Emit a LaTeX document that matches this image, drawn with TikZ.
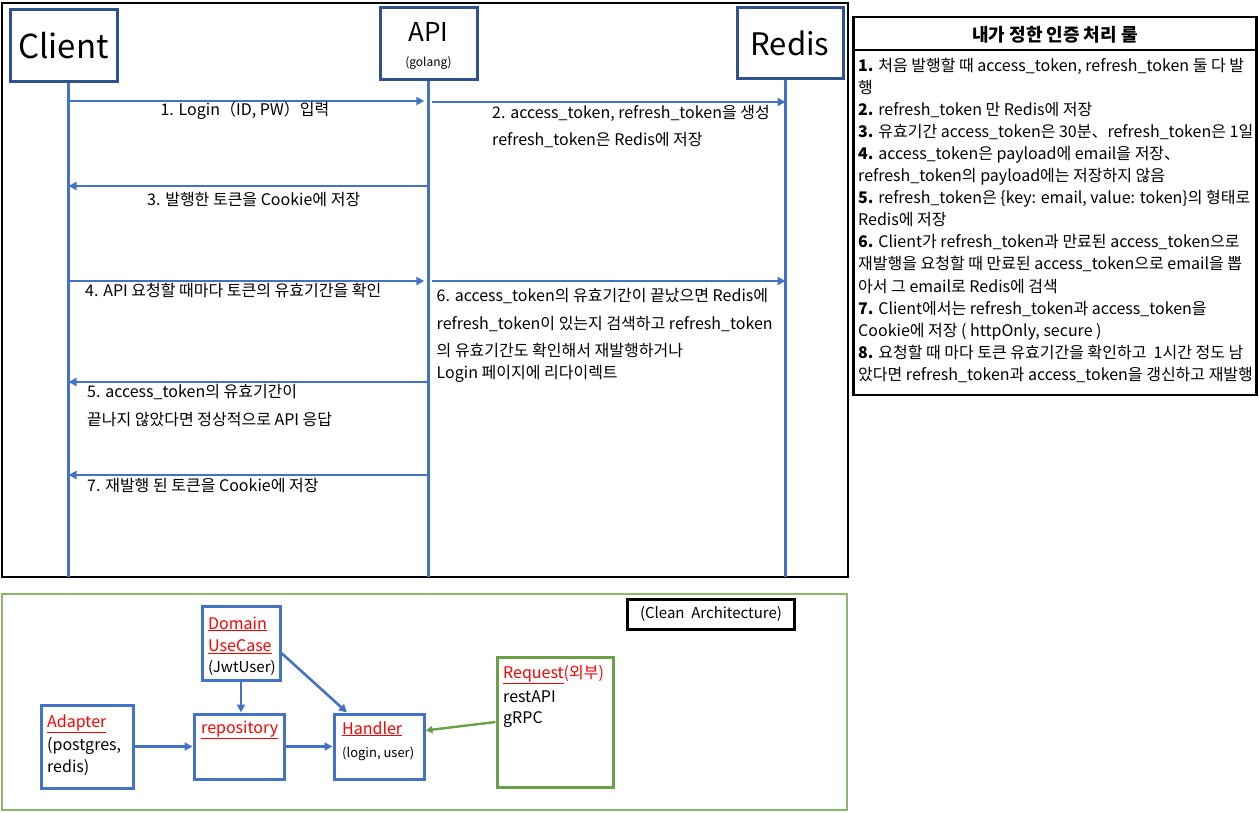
\documentclass[tikz,border=0pt]{standalone}
\usepackage{fontspec}
\setmainfont{Noto Sans CJK KR}
\usetikzlibrary{arrows.meta,positioning}
\definecolor{actorblue}{RGB}{47,82,143}
\definecolor{lifeblue}{RGB}{68,114,196}
\definecolor{framegreen}{RGB}{140,185,105}
\definecolor{reqgreen}{RGB}{106,160,70}
\definecolor{layerred}{RGB}{255,0,0}
\newcommand{\fsz}[1]{\fontsize{#1}{#1}\selectfont}

\begin{document}
\begin{tikzpicture}[x=1pt,y=-1pt,
  actor/.style={draw=actorblue,line width=3pt,inner sep=0pt},
  lifeline/.style={lifeblue,line width=2.4pt},
  msg/.style={lifeblue,line width=2.4pt,-{Triangle[length=8pt,width=8pt]}},
  msgtext/.style={font=\fsz{16},anchor=base west,inner sep=0pt},
  ruletext/.style={font=\fsz{16},anchor=base west,inner sep=0pt},
  layer/.style={draw=lifeblue,line width=3pt,inner sep=0pt},
  layertext/.style={font=\fsz{16},anchor=base west,inner sep=0pt},
  layername/.style={layertext,text=layerred},
  dep/.style={lifeblue,line width=2.6pt,-{Triangle[length=8pt,width=8pt]}}]
\useasboundingbox (0,0) rectangle (1259,813);

% sequence part
\draw[line width=2.4pt] (2,3) rectangle (848,577);
\node[actor,minimum width=107,minimum height=72,font=\fsz{33}] (client) at (63.5,46) {Client};
\node[actor,minimum width=97,minimum height=72] (api) at (428.5,44) {};
\node[font=\fsz{26},anchor=base,inner sep=0pt] (apiName) at (428.5,42) {API};
\node[font=\fsz{12},anchor=base,inner sep=0pt] (apiLang) at (428.5,67) {(golang)};
\node[actor,minimum width=106,minimum height=71,font=\fsz{31}] (redis) at (790,43.5) {Redis};

\coordinate (clientFoot) at (68.5,577);
\coordinate (apiFoot) at (428.3,577);
\coordinate (redisFoot) at (785.5,577);
\draw[lifeline] (client.south -| clientFoot) -- (clientFoot);
\draw[lifeline] (api.south -| apiFoot) -- (apiFoot);
\draw[lifeline] (redis.south -| redisFoot) -- (redisFoot);

\coordinate (lvlLogin) at (0,101);
\coordinate (lvlIssue) at (0,102);
\coordinate (lvlCookie) at (0,186);
\coordinate (lvlCheck) at (0,281);
\coordinate (lvlReply) at (0,382);
\coordinate (lvlReissue) at (0,475);

\draw[msg,shorten >=4pt] (clientFoot |- lvlLogin) -- (apiFoot |- lvlLogin);
\draw[msg,shorten <=4pt] (apiFoot |- lvlIssue) -- (redisFoot |- lvlIssue);
\draw[msg] (apiFoot |- lvlCookie) -- (clientFoot |- lvlCookie);
\draw[msg,shorten >=4pt] (clientFoot |- lvlCheck) -- (apiFoot |- lvlCheck);
\draw[msg,shorten <=4pt] (apiFoot |- lvlCheck) -- (redisFoot |- lvlCheck);
\draw[msg] (apiFoot |- lvlReply) -- (clientFoot |- lvlReply);
\draw[msg] (apiFoot |- lvlReissue) -- (clientFoot |- lvlReissue);

\node[msgtext,anchor=base] (loginText) at (245,116) {1. Login（ID, PW）입력};
\node[msgtext] (issueTextA) at (492,118.5) {2. access\_token, refresh\_token을 생성};
\node[msgtext] (issueTextB) at (492,145.5) {refresh\_token은 Redis에 저장};
\node[msgtext] (cookieText) at (147,206) {3. 발행한 토큰을 Cookie에 저장};
\node[msgtext] (checkText) at (85,297) {4. API 요청할 때마다 토큰의 유효기간을 확인};
\node[msgtext] (lookupTextA) at (436.5,301.5) {6. access\_token의 유효기간이 끝났으면 Redis에};
\node[msgtext] (lookupTextB) at (436.5,329) {refresh\_token이 있는지 검색하고 refresh\_token};
\node[msgtext] (lookupTextC) at (436.5,356) {의 유효기간도 확인해서 재발행하거나};
\node[msgtext] (lookupTextD) at (436.5,378) {Login 페이지에 리다이렉트};
\node[msgtext] (replyTextA) at (87,397) {5. access\_token의 유효기간이};
\node[msgtext] (replyTextB) at (87,425) {끝나지 않았다면 정상적으로 API 응답};
\node[msgtext] (reissueText) at (87,491) {7. 재발행 된 토큰을 Cookie에 저장};

% rules box
\node[draw,line width=2.4pt,minimum width=403,minimum height=378,inner sep=0pt] (rules) at (1055,206) {};
\coordinate (titleLine) at (0,50);
\draw[line width=1.8pt] (rules.west |- titleLine) -- (rules.east |- titleLine);
\node[font=\bfseries\fsz{18},inner sep=0pt] (rulesTitle) at (1055,35) {내가 정한 인증 처리 룰};
\foreach \rule [count=\i] in {
  {\textbf{1.} 처음 발행할 때 access\_token, refresh\_token 둘 다 발},
  {행},
  {\textbf{2.} refresh\_token 만 Redis에 저장},
  {\textbf{3.} 유효기간 access\_token은 30분、refresh\_token은 1일},
  {\textbf{4.} access\_token은 payload에 email을 저장、},
  {refresh\_token의 payload에는 저장하지 않음},
  {\textbf{5.} refresh\_token은 \{key: email, value: token\}의 형태로},
  {Redis에 저장},
  {\textbf{6.} Client가 refresh\_token과 만료된 access\_token으로},
  {재발행을 요청할 때 만료된 access\_token으로 email을 뽑},
  {아서 그 email로 Redis에 검색},
  {\textbf{7.} Client에서는 refresh\_token과 access\_token을},
  {Cookie에 저장 ( httpOnly, secure )},
  {\textbf{8.} 요청할 때 마다 토큰 유효기간을 확인하고 \ 1시간 정도 남},
  {았다면 refresh\_token과 access\_token을 갱신하고 재발행}}
  \node[ruletext] (rule\i) at (858,50+22*\i) {\rule};

% clean architecture part
\draw[framegreen,line width=2.4pt] (2,594) rectangle (847,810);
\node[draw,line width=3pt,minimum width=167,minimum height=30,inner sep=0pt,font=\fsz{15}] (cleanArch) at (711,614) {(Clean\ \ Architecture)};

\node[layer,minimum width=78,minimum height=74] (domain) at (241,643) {};
\node[layername] (domainName) at (208,629) {\underline{Domain}};
\node[layername] (usecaseName) at (208,651.5) {\underline{UseCase}};
\node[layertext,font=\fsz{15}] (domainNote) at (208,672) {(JwtUser)};

\node[layer,minimum width=92,minimum height=83] (adapter) at (87,746.5) {};
\node[layername] (adapterName) at (47,727) {\underline{Adapter}};
\node[layertext] (adapterNoteA) at (47,750) {(postgres,};
\node[layertext] (adapterNoteB) at (47,772) {redis)};

\node[layer,minimum width=90,minimum height=65] (repository) at (239,746.5) {};
\node[layername] (repositoryName) at (201,733) {\underline{repository}};

\node[layer,minimum width=90,minimum height=65] (handler) at (379,746.5) {};
\node[layername] (handlerName) at (342,734) {\underline{Handler}};
\node[layertext,font=\fsz{13}] (handlerNote) at (342,757) {(login, user)};

\node[draw=reqgreen,line width=3pt,minimum width=116,minimum height=130,inner sep=0pt] (request) at (555,722) {};
\node[layername] (requestName) at (503,678) {\underline{Request}(외부)};
\node[layertext] (requestRest) at (503,702) {restAPI};
\node[layertext] (requestGrpc) at (503,723) {gRPC};

\draw[dep] (adapter) -- (repository);
\draw[dep] (repository) -- (handler);
\draw[dep] (domain.south) -- (domain.south |- repository.north);
\draw[dep] (domain.-14) -- ([xshift=-32pt]handler.north);
\draw[reqgreen,line width=2.4pt,-{Triangle[length=7pt,width=7pt]}] (request.west) -- ([yshift=16pt]handler.east);
\end{tikzpicture}
\end{document}
